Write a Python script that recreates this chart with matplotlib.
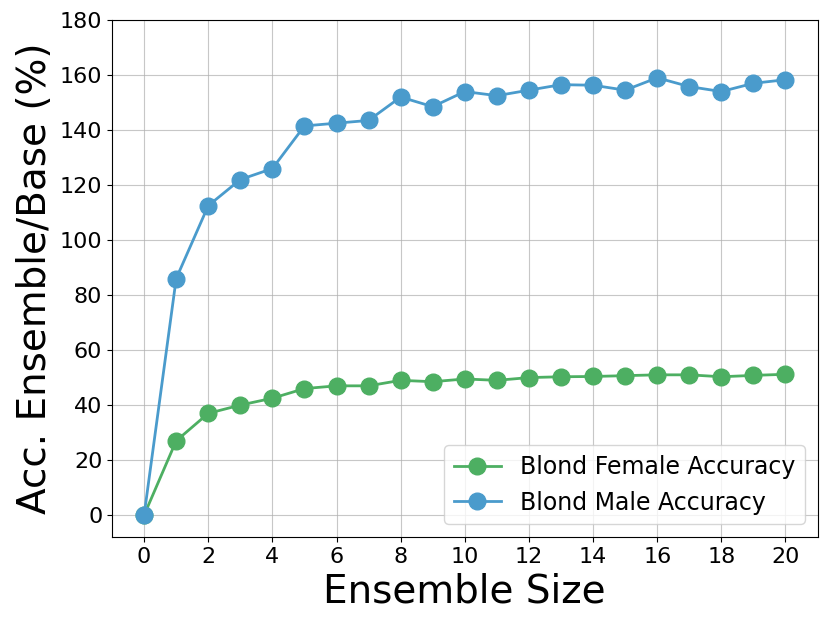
import matplotlib
matplotlib.use("Agg")
import matplotlib.pyplot as plt

# ensemble size 0..20
ensemble_size = list(range(21))
female_acc = [0, 27, 37, 40, 42.5, 46, 47, 47, 49, 48.5, 49.5, 49, 50, 50.3, 50.4,
              50.7, 51, 51, 50.3, 50.8, 51.2]
male_acc = [0, 86, 112.5, 122, 126, 141.5, 142.5, 143.5, 152, 148.5, 154, 152.5,
            154.5, 156.5, 156.3, 154.5, 159, 155.8, 154, 157, 158.3]
x_ticks = list(range(0, 21, 2))
y_ticks = list(range(0, 181, 20))

fig, ax = plt.subplots(figsize=(8.3, 6.26), dpi=100)
ax.plot(ensemble_size, female_acc, '-o', color='#4daf62', lw=2, ms=12,
        label='Blond Female Accuracy')
ax.plot(ensemble_size, male_acc, '-o', color='#4a9bcc', lw=2, ms=12,
        label='Blond Male Accuracy')

ax.set_xticks(x_ticks)
ax.set_yticks(y_ticks)
ax.set_ylim(-8, 180)
ax.tick_params(labelsize=16)
ax.grid(True, color='#b0b0b0', alpha=0.7)
ax.set_xlabel('Ensemble Size', fontsize=28)
ax.set_ylabel('Acc. Ensemble/Base (%)', fontsize=28)
ax.legend(loc='lower right', fontsize=17, borderaxespad=0.55)

plt.subplots_adjust(left=0.135, right=0.985, top=0.968, bottom=0.142)
plt.savefig('out.png')
